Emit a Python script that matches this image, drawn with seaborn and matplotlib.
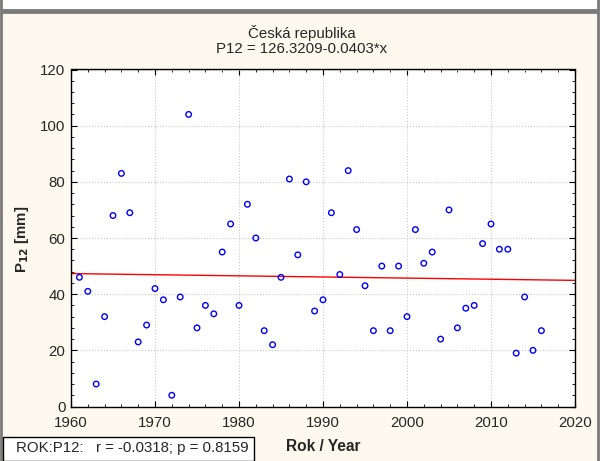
import matplotlib
matplotlib.use("Agg")
import matplotlib.pyplot as plt
import matplotlib.patches as mpatches
from matplotlib.ticker import MultipleLocator
import seaborn as sns
import pandas as pd
import numpy as np

# data
years = list(range(1961, 2017))
p12 = [46, 41, 8, 32, 68, 83, 69, 23, 29, 42,
       38, 4, 39, 104, 28, 36, 33, 55, 65, 36,
       72, 60, 27, 22, 46, 81, 54, 80, 34, 38,
       69, 47, 84, 63, 43, 27, 50, 27, 50, 32,
       63, 51, 55, 24, 70, 28, 35, 36, 58, 65,
       56, 56, 19, 39, 20, 27]
intercept = 126.3209
slope = -0.0403
title_lines = ["Česká republika", "P12 = 126.3209-0.0403*x"]
stats_text = "ROK:P12:   r = -0.0318; p = 0.8159"

df = pd.DataFrame({"year": years, "p12": p12})
line_x = np.array([1960, 2020])
fit = pd.DataFrame({"year": line_x, "p12": intercept + slope * line_x})

sns.set_style("ticks")
plt.rcParams["font.family"] = ["Liberation Sans", "DejaVu Sans"]
fs = 10.8

W, H = 600, 461
fig = plt.figure(figsize=(6, 4.61), dpi=100)
fig.patch.set_facecolor("#fdf9ee")
ax = fig.add_axes([71 / W, 1 - 406.5 / H, 504 / W, 337 / H])
ax.set_facecolor("white")

sns.lineplot(data=fit, x="year", y="p12", color="red", linewidth=1, ax=ax)
sns.scatterplot(data=df, x="year", y="p12", marker="o", s=16,
                facecolors="none", edgecolor="blue", linewidth=1, ax=ax, zorder=3)

ax.set_xlim(1960, 2020)
ax.set_ylim(0, 120)
ax.xaxis.set_major_locator(MultipleLocator(10))
ax.xaxis.set_minor_locator(MultipleLocator(2))
ax.yaxis.set_major_locator(MultipleLocator(20))
ax.yaxis.set_minor_locator(MultipleLocator(4))
ax.tick_params(which="both", direction="in", top=True, right=True, labelsize=fs, color="black")
ax.tick_params(which="major", length=4)
ax.tick_params(which="minor", length=2)
ax.tick_params(axis="x", which="major", pad=6.5)
ax.tick_params(axis="y", which="major", pad=4)
ax.grid(True, which="major", color="#c8c8c8", linestyle=":", linewidth=0.8)
for s in ax.spines.values():
    s.set_color("black")
    s.set_linewidth(1)

ax.set_xlabel("")
ax.set_ylabel("")
fig.text(22 / W, 1 - 239 / H, r"P$_{\mathbf{12}}$ [mm]", fontsize=fs, fontweight="bold",
         rotation=90, ha="center", va="center")
fig.text(323 / W, 1 - 446 / H, "Rok / Year", fontsize=11.2, fontweight="bold",
         ha="center", va="center")

fig.text(302 / W, 1 - 33 / H, title_lines[0], fontsize=fs, ha="center", va="center")
fig.text(302 / W, 1 - 49 / H, title_lines[1], fontsize=fs, ha="center", va="center")

# stats box bottom-left
fig.text(16 / W, 1 - 448 / H, stats_text, fontsize=fs, ha="left", va="center")
fig.patches.append(mpatches.Rectangle((3 / W, 0), 251 / W, 24 / H, transform=fig.transFigure,
                                      facecolor="white", edgecolor="black", linewidth=1, zorder=-1))

# outer frames
fig.patches.append(mpatches.Rectangle((1 / W, 1 - 10 / H), 597 / W, 12 / H, transform=fig.transFigure,
                                      facecolor="white", edgecolor="#7a7a7a", linewidth=2, zorder=-2))
fig.patches.append(mpatches.Rectangle((1 / W, -2 / H), 597 / W, 1 - 10 / H, transform=fig.transFigure,
                                      facecolor="none", edgecolor="#7a7a7a", linewidth=2, zorder=-2))

fig.savefig("out.png", dpi=100)
